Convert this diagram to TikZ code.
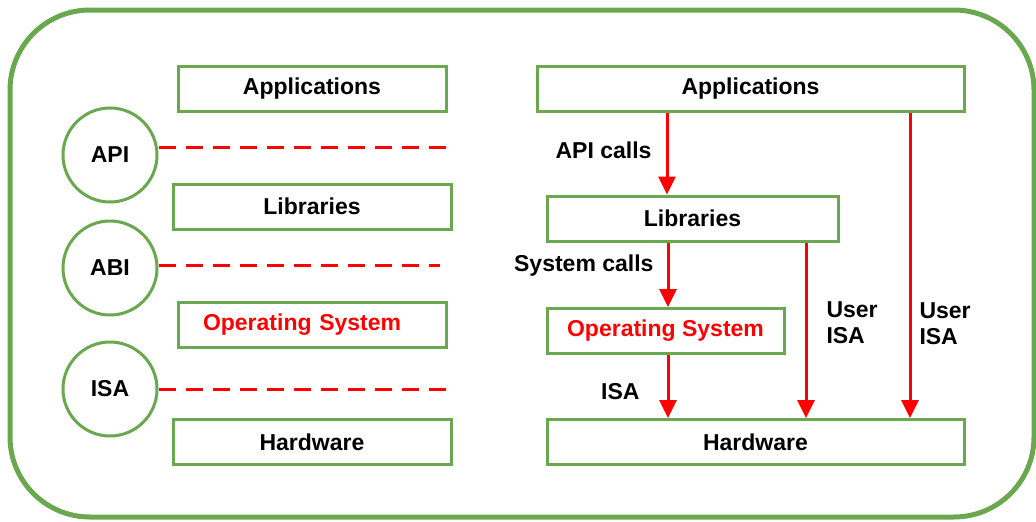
\documentclass[tikz,border=0pt]{standalone}
\usepackage{fontspec}
\setmainfont{Liberation Sans}
\usepackage{xcolor}
\usepackage{tikz}
\usetikzlibrary{arrows.meta, positioning, shapes.geometric}
\definecolor{layergreen}{RGB}{106,168,79}
\definecolor{callred}{RGB}{255,0,0}
\tikzset{
    layer/.style={rectangle, draw=layergreen, line width=3pt, minimum height=45pt, inner sep=0pt, align=center, font=\fontsize{23}{27}\selectfont\bfseries},
    iface/.style={circle, draw=layergreen, line width=3pt, minimum size=94pt, inner sep=0pt, font=\fontsize{23}{27}\selectfont\bfseries},
    lbl/.style={inner sep=0pt, align=left, font=\fontsize{23}{26}\selectfont\bfseries},
    arrow/.style={-{Triangle[width=17pt,length=18pt]}, draw=callred, line width=3pt},
    dashline/.style={draw=callred, line width=3pt, dash pattern=on 17pt off 10pt},
}

\begin{document}
\begin{tikzpicture}[x=1pt, y=-1pt]
    \useasboundingbox (0,0) rectangle (1036,522);
    \draw[layergreen, line width=5pt, rounded corners=80pt] (10,10) rectangle (1034,517);

    % left stack
    \node[layer, minimum width=268pt] (appL) at (312,88.5) {Applications};
    \node[layer, minimum width=278pt] (libL) at (312,206.5) {Libraries};
    \node[layer, minimum width=268pt, text width=218pt, inner xsep=25pt, align=left, text=callred] (osL) at (312,325) {Operating System};
    \node[layer, minimum width=278pt] (hwL) at (312,442) {Hardware};

    \node[iface] (api) at (110,155) {API};
    \node[iface] (abi) at (110,268) {ABI};
    \node[iface] (isa) at (110,389) {ISA};

    \coordinate (apiEnd) at (450,147);
    \coordinate (abiEnd) at (440,265);
    \coordinate (isaEnd) at (447,389);
    \draw[dashline] (api.east |- apiEnd) -- (apiEnd);
    \draw[dashline] (abi.east |- abiEnd) -- (abiEnd);
    \draw[dashline] (isa.east |- isaEnd) -- (isaEnd);

    % right stack
    \node[layer, minimum width=427pt] (appR) at (750.5,89) {Applications};
    \node[layer, minimum width=291pt] (libR) at (692.5,218.5) {Libraries};
    \node[layer, minimum width=237pt, text=callred] (osR) at (665.5,331) {Operating System};
    \node[layer, minimum width=417pt] (hwR) at (755.5,442) {Hardware};

    \coordinate (appA) at (667,0);
    \coordinate (libA) at (668,0);
    \coordinate (libB) at (806,0);
    \coordinate (appB) at (910,0);

    \draw[arrow] (appR.south -| appA) -- node[lbl, left=14pt, pos=0.46] {API calls} (libR.north -| appA);
    \draw[arrow] (libR.south -| libA) -- node[lbl, left=13pt, pos=0.36] {System calls} (osR.north -| libA);
    \draw[arrow] (osR.south -| libA) -- node[lbl, left=27pt, pos=0.58] {ISA} (hwR.north -| libA);
    \draw[arrow] (libR.south -| libB) -- node[lbl, right=19pt, pos=0.455] {User\\ISA} (hwR.north -| libB);
    \draw[arrow] (appR.south -| appB) -- node[lbl, right=8pt, pos=0.69] {User\\ISA} (hwR.north -| appB);

\end{tikzpicture}
\end{document}
